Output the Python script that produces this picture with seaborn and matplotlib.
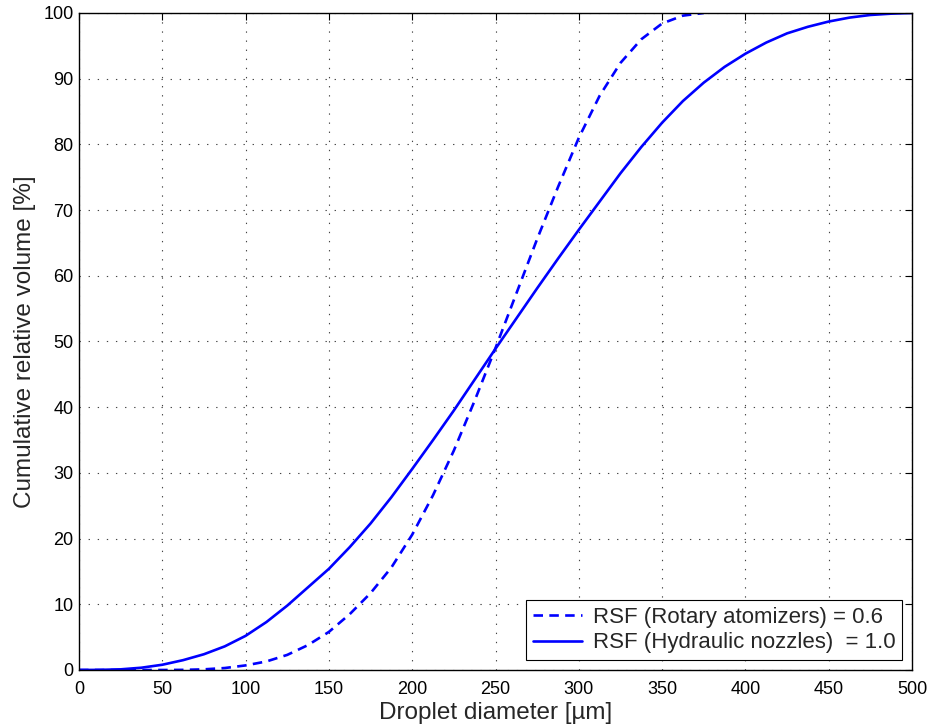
import matplotlib
matplotlib.use("Agg")
import matplotlib.pyplot as plt
import seaborn as sns
import pandas as pd

# Rotary atomizers (RSF = 0.6), dashed
rot_x = [0, 25, 50, 62.5, 75, 87.5, 100, 112.5, 125, 137.5, 150, 162.5, 175, 187.5,
         200, 212.5, 225, 237.5, 250, 262.5, 275, 287.5, 300, 312.5, 325, 337.5,
         350, 362.5, 375]
rot_y = [0, 0, 0, 0.02, 0.1, 0.3, 0.7, 1.3, 2.3, 3.8, 5.8, 8.5, 11.7, 15.6,
         20.6, 26.6, 33.4, 41.0, 49.0, 57.3, 65.6, 73.5, 81.0, 87.4, 92.4, 96.0,
         98.4, 99.6, 100]

# Hydraulic nozzles (RSF = 1.0), solid
hyd_x = [0, 12.5, 25, 37.5, 50, 62.5, 75, 87.5, 100, 112.5, 125, 137.5, 150, 162.5,
         175, 187.5, 200, 212.5, 225, 237.5, 250, 262.5, 275, 287.5, 300, 312.5,
         325, 337.5, 350, 362.5, 375, 387.5, 400, 412.5, 425, 437.5, 450, 462.5,
         475, 487.5, 500]
hyd_y = [0, 0.02, 0.1, 0.35, 0.8, 1.5, 2.4, 3.6, 5.2, 7.3, 9.8, 12.6, 15.4, 18.7,
         22.3, 26.3, 30.6, 35.0, 39.5, 44.2, 48.9, 53.5, 58.1, 62.6, 67.0, 71.3,
         75.6, 79.6, 83.3, 86.6, 89.4, 91.8, 93.8, 95.5, 96.9, 97.9, 98.7, 99.3,
         99.7, 99.9, 100]

labels = ["RSF (Rotary atomizers) = 0.6", "RSF (Hydraulic nozzles)  = 1.0"]
x_ticks = list(range(0, 501, 50))
y_ticks = list(range(0, 101, 10))
x_label = "Droplet diameter [µm]"
y_label = "Cumulative relative volume [%]"

sns.set_style("white")
plt.rcParams['font.family'] = ['Liberation Sans', 'DejaVu Sans']

df_rot = pd.DataFrame({"x": rot_x, "y": rot_y})
df_hyd = pd.DataFrame({"x": hyd_x, "y": hyd_y})

fig = plt.figure(figsize=(9.33, 7.27), dpi=100)
ax = fig.add_axes([79/933, 57/727, (912-79)/933, (670-13)/727])

blue = "#0000ff"
sns.lineplot(data=df_rot, x="x", y="y", ax=ax, color=blue, lw=1.9,
             label=labels[0], estimator=None, sort=False)
ax.lines[-1].set_dashes((3.6, 2.4))
sns.lineplot(data=df_hyd, x="x", y="y", ax=ax, color=blue, lw=1.9,
             label=labels[1], estimator=None, sort=False)

ax.set_xlim(0, 500)
ax.set_ylim(0, 100)
ax.set_xticks(x_ticks)
ax.set_yticks(y_ticks)
ax.tick_params(direction="in", length=5, width=0.8, top=True, right=True,
               labelsize=13, colors="black")
ax.tick_params(axis="x", pad=8)
ax.tick_params(axis="y", pad=4)
ax.grid(True, color="#444444", linestyle=(0, (1.2, 7)), linewidth=0.8)
for s in ax.spines.values():
    s.set_visible(True)
    s.set_color("black")
    s.set_linewidth(1.0)

ax.set_xlabel(x_label, fontsize=17.5, labelpad=3)
ax.set_ylabel(y_label, fontsize=17.5, labelpad=5.5)

leg = ax.legend(loc="lower right", fontsize=16, frameon=True, fancybox=False,
                edgecolor="black", framealpha=1, borderaxespad=0.45,
                handlelength=2.2, handletextpad=0.5, borderpad=0.3,
                labelspacing=0.2)
leg.get_frame().set_linewidth(0.8)

fig.savefig("out.png", dpi=100)
